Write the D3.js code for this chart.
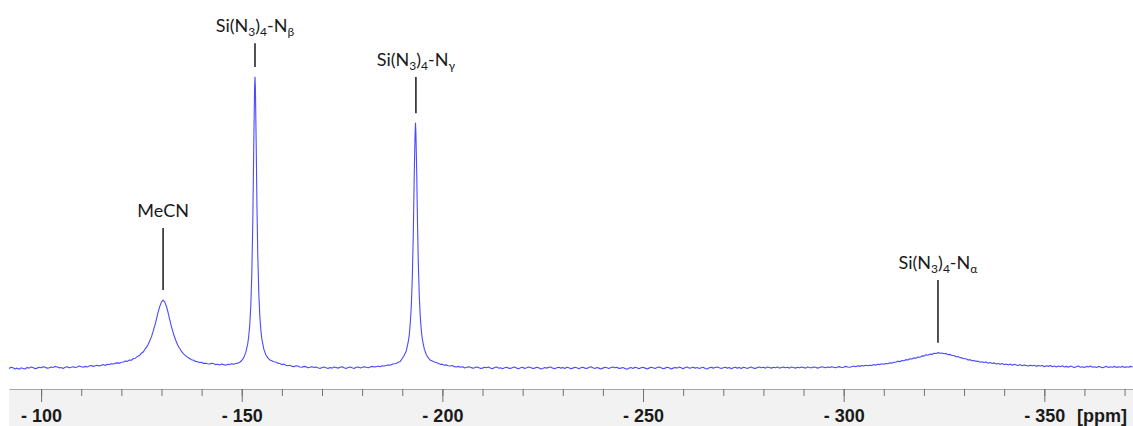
<!DOCTYPE html>
<meta charset="utf-8">

<!-- Load d3.js -->
<script src="https://d3js.org/d3.v7.min.js"></script>

<style>
  body { margin: 0; background: #fff; }
</style>

<body>
<div>
  <svg id="mysvg" width="1133" height="426"></svg>
</div>

<script>
  // spectrum as [ppm, intensity] (Nbeta top = 100)
  var baseLeft = [[-92,0.2],[-92.5,0.6],[-93,0.4],[-93.5,0.0],[-94,0.3],[-94.5,-0.1],[-95,0.4],[-95.5,0.2],[-96,0.0],
    [-96.5,0.5],[-97,0.3],[-97.5,0.7],[-98,0.5],[-98.5,0.1],[-99,0.3],[-99.5,0.6],[-100,0.4],[-100.5,0.8],[-101,0.6],
    [-101.5,0.3],[-102,0.4],[-102.5,0.7],[-103,0.5],[-103.5,0.9],[-104,0.7],[-104.5,0.4],[-105,0.5],[-105.5,0.2],
    [-106,0.6],[-106.5,0.8],[-107,0.4],[-107.5,0.6],[-108,0.8],[-108.5,0.5],[-109,0.7],[-109.5,1.0],[-110,0.8],
    [-110.5,0.6],[-111,0.9],[-111.5,0.7],[-112,1.0],[-112.5,1.2],[-113,0.9],[-113.5,1.1],[-114,1.3],[-114.5,1.0],
    [-115,1.3],[-115.5,1.5],[-116,1.2],[-116.5,1.6],[-117,1.5],[-117.5,1.8],[-118,1.7],[-118.5,2.0],[-119,2.1],
    [-119.5,2.0],[-120,2.3]]

  var peakMeCN = [[-120.5,2.4],[-121,2.7],[-121.5,2.6],[-122,3.1],[-122.5,3.0],[-123,3.6],[-123.5,3.7],[-124,4.3],
    [-124.5,4.6],[-125,5.4],[-125.5,5.9],[-126,7.0],[-126.5,7.9],[-127,9.4],[-127.5,11.0],[-128,13.3],[-128.5,15.6],
    [-129,18.6],[-129.5,21.1],[-130,23.0],[-130.4,23.6],[-130.8,23.0],[-131.2,21.6],[-131.6,19.6],[-132,17.2],
    [-132.5,14.4],[-133,12.0],[-133.5,10.0],[-134,8.3],[-134.5,7.1],[-135,6.0],[-135.5,5.2],[-136,4.6],[-136.5,4.0],
    [-137,3.6],[-137.5,3.2],[-138,3.0],[-138.5,2.6],[-139,2.5],[-139.5,2.2],[-140,2.3],[-140.5,1.9],[-141,2.0]]

  var gapBeta = [[-141.5,1.8],[-142,1.7],[-142.5,2.0],[-143,1.8],[-143.5,1.5],[-144,1.6],[-144.5,1.4],[-145,1.7],
    [-145.5,1.5],[-146,1.3],[-146.5,1.6],[-147,1.5],[-147.5,1.8],[-148,1.6],[-148.5,1.9],[-149,2.0],[-149.5,2.3]]

  var peakBeta = [[-150,2.9],[-150.5,3.9],[-151,5.6],[-151.5,8.7],[-151.75,11.4],[-152,15.2],[-152.25,21.6],[-152.5,32.0],
    [-152.75,50.0],[-153,77.0],[-153.2,96.5],[-153.3,100],[-153.4,96.5],[-153.6,77.0],[-153.8,55.0],[-154,38.8],
    [-154.25,25.9],[-154.5,18.2],[-154.75,13.5],[-155,10.4],[-155.5,6.8],[-156,4.9],[-156.5,3.8],[-157,3.1]]

  var midBase = [[-157.5,2.8],[-158,2.5],[-158.5,2.4],[-159,2.0],[-159.5,1.9],[-160,1.5],[-160.5,1.7],[-161,1.3],
    [-161.5,1.1],[-162,1.3],[-162.5,0.9],[-163,0.8],[-163.5,1.1],[-164,1.0],[-164.5,0.7],[-165,0.6],[-165.5,0.9],
    [-166,0.8],[-166.5,0.4],[-167,0.6],[-167.5,0.8],[-168,0.5],[-168.5,0.7],[-169,0.4],[-169.5,0.2],[-170,0.5],
    [-170.5,0.7],[-171,0.4],[-171.5,0.2],[-172,0.5],[-172.5,0.3],[-173,0.7],[-173.5,0.5],[-174,0.3],[-174.5,0.6],
    [-175,0.8],[-175.5,0.4],[-176,0.2],[-176.5,0.5],[-177,0.7],[-177.5,0.4],[-178,0.2],[-178.5,0.6],[-179,0.7],
    [-179.5,0.4],[-180,0.5],[-180.5,0.8],[-181,0.6],[-181.5,0.4],[-182,0.7],[-182.5,0.9],[-183,0.7],[-183.5,0.8],
    [-184,1.0],[-184.5,0.8],[-185,1.1],[-185.5,1.0],[-186,1.2],[-186.5,1.4],[-187,1.3],[-187.5,1.6],[-188,1.8],
    [-188.5,1.9],[-189,2.3]]

  var peakGamma = [[-189.5,2.6],[-190,3.6],[-190.5,4.7],[-191,6.2],[-191.5,9.4],[-191.75,11.7],[-192,15.7],[-192.25,21.4],
    [-192.5,31.0],[-192.75,46.0],[-193,67.6],[-193.2,81.0],[-193.3,84.2],[-193.4,81.0],[-193.6,67.6],[-193.8,50.0],
    [-194,36.2],[-194.25,24.7],[-194.5,17.6],[-194.75,13.2],[-195,10.2],[-195.5,6.8],[-196,4.9],[-196.5,3.8],[-197,3.0]]

  var baseRight = [[-197.5,2.7],[-198,2.4],[-198.5,2.2],[-199,1.9],[-199.5,1.6],[-200,1.6],[-200.5,1.3],[-201,1.4],
    [-201.5,1.1],[-202,1.0],[-202.5,1.2],[-203,0.8],[-203.5,0.7],[-204,0.9],[-204.5,0.6],[-205,0.8],[-205.5,0.4],
    [-206,0.5],[-206.5,0.8],[-207,0.6],[-207.5,0.3],[-208,0.4],[-208.5,0.7],[-209,0.5],[-209.5,0.2],[-210,0.3],
    [-210.5,0.6],[-211,0.4],[-211.5,0.7],[-212,0.3],[-212.5,0.1],[-213,0.5],[-213.5,0.7],[-214,0.3],[-214.5,0.4],
    [-215,0.1],[-215.5,0.4],[-216,0.6],[-216.5,0.3],[-217,0.2],[-217.5,0.5],[-218,0.7],[-218.5,0.3],[-219,0.1],
    [-219.5,0.4],[-220,0.6],[-220.5,0.2],[-221,0.4],[-221.5,0.7],[-222,0.5],[-222.5,0.2],[-223,0.3],[-223.5,0.6],
    [-224,0.4],[-224.5,0.0],[-225,0.2],[-225.5,0.5],[-226,0.3],[-226.5,0.6],[-227,0.7],[-227.5,0.3],[-228,0.1],
    [-228.5,0.4],[-229,0.6],[-229.5,0.3],[-230,0.5],[-230.5,0.2],[-231,0.6],[-231.5,0.4],[-232,0.1],[-232.5,0.3],
    [-233,0.6],[-233.5,0.4],[-234,0.1],[-234.5,0.4],[-235,0.6],[-235.5,0.3],[-236,0.2],[-236.5,0.5],[-237,0.8],
    [-237.5,0.4],[-238,0.2],[-238.5,0.5],[-239,0.3],[-239.5,0.0],[-240,0.3],[-240.5,0.6],[-241,0.4],[-241.5,0.2],
    [-242,0.5],[-242.5,0.7],[-243,0.4],[-243.5,0.6],[-244,0.2],[-244.5,0.3],[-245,0.5],[-245.5,0.2],[-246,-0.1],
    [-246.5,0.3],[-247,0.5],[-247.5,0.2],[-248,0.6],[-248.5,0.4],[-249,0.1],[-249.5,0.4],[-250,0.6],[-250.5,0.3],
    [-251,0.0],[-251.5,0.3],[-252,0.6],[-252.5,0.4],[-253,0.2],[-253.5,0.5],[-254,0.7],[-254.5,0.4],[-255,0.1],
    [-255.5,0.3],[-256,0.6],[-256.5,0.4],[-257,0.0],[-257.5,0.3],[-258,0.5],[-258.5,0.3],[-259,0.7],[-259.5,0.4],
    [-260,0.1],[-260.5,0.5],[-261,0.7],[-261.5,0.3],[-262,0.4],[-262.5,0.6],[-263,0.3],[-263.5,0.5],[-264,0.2],
    [-264.5,0.4],[-265,0.6],[-265.5,0.2],[-266,0.0],[-266.5,0.4],[-267,0.6],[-267.5,0.3],[-268,0.5],[-268.5,0.7],
    [-269,0.4],[-269.5,0.2],[-270,0.4],[-270.5,0.6],[-271,0.3],[-271.5,0.5],[-272,0.1],[-272.5,0.4],[-273,0.6],
    [-273.5,0.3],[-274,0.5],[-274.5,0.2],[-275,0.6],[-275.5,0.4],[-276,0.2],[-276.5,0.5],[-277,0.7],[-277.5,0.3],
    [-278,0.2],[-278.5,0.5],[-279,0.7],[-279.5,0.4],[-280,0.6],[-280.5,0.3],[-281,0.7],[-281.5,0.5],[-282,0.3],
    [-282.5,0.6],[-283,0.4],[-283.5,0.7],[-284,0.3],[-284.5,0.5],[-285,0.7],[-285.5,0.4],[-286,0.6],[-286.5,0.3],
    [-287,0.7],[-287.5,0.5],[-288,0.3],[-288.5,0.6],[-289,0.4],[-289.5,0.7],[-290,0.5],[-290.5,0.3],[-291,0.7],
    [-291.5,0.5],[-292,0.4],[-292.5,0.7],[-293,0.6],[-293.5,0.3],[-294,0.5],[-294.5,0.8],[-295,0.6],[-295.5,0.4],
    [-296,0.7],[-296.5,0.5],[-297,0.8],[-297.5,0.6],[-298,0.4],[-298.5,0.7],[-299,0.8],[-299.5,0.5],[-300,0.6],
    [-300.5,0.9],[-301,0.7],[-301.5,0.6],[-302,0.8],[-302.5,1.0],[-303,0.8],[-303.5,1.1],[-304,0.9],[-304.5,1.2],
    [-305,1.0],[-305.5,1.3]]

  var peakAlpha = [[-306,1.1],[-306.5,1.3],[-307,1.2],[-307.5,1.5],[-308,1.3],[-308.5,1.6],[-309,1.5],[-309.5,1.8],
    [-310,1.6],[-310.5,1.9],[-311,1.8],[-311.5,2.1],[-312,2.0],[-312.5,2.3],[-313,2.3],[-313.5,2.7],[-314,2.5],
    [-314.5,2.9],[-315,2.8],[-315.5,3.2],[-316,3.1],[-316.5,3.5],[-317,3.4],[-317.5,3.8],[-318,3.7],[-318.5,4.1],
    [-319,4.0],[-319.5,4.5],[-320,4.4],[-320.5,4.9],[-321,4.7],[-321.5,5.1],[-322,5.0],[-322.5,5.4],[-323,5.3],
    [-323.5,5.6],[-324,5.4],[-324.5,5.5],[-325,5.2],[-325.5,5.3],[-326,4.9],[-326.5,5.0],[-327,4.6],[-327.5,4.6],
    [-328,4.2],[-328.5,4.3],[-329,3.9],[-329.5,3.8],[-330,3.5],[-330.5,3.5],[-331,3.1],[-331.5,3.2],[-332,2.8],
    [-332.5,2.9],[-333,2.6],[-333.5,2.7],[-334,2.3],[-334.5,2.5],[-335,2.2],[-335.5,2.4],[-336,2.0],[-336.5,2.2],
    [-337,1.9],[-337.5,2.1],[-338,1.7],[-338.5,1.9],[-339,1.6],[-339.5,1.9],[-340,1.5],[-340.5,1.7],[-341,1.4],
    [-341.5,1.7],[-342,1.3],[-342.5,1.6],[-343,1.4],[-343.5,1.2],[-344,1.5],[-344.5,1.1],[-345,1.4],[-345.5,1.2],
    [-346,1.0],[-346.5,1.3],[-347,1.1],[-347.5,1.3],[-348,0.9],[-348.5,1.2],[-349,1.0],[-349.5,1.2],[-350,0.8],
    [-350.5,1.1],[-351,0.9],[-351.5,1.2],[-352,0.8],[-352.5,1.0],[-353,0.7],[-353.5,1.0],[-354,0.8],[-354.5,1.1],
    [-355,0.7],[-355.5,0.9],[-356,0.6],[-356.5,1.0],[-357,0.8],[-357.5,0.5],[-358,0.8],[-358.5,1.0],[-359,0.6],
    [-359.5,0.8],[-360,0.5],[-360.5,0.9],[-361,0.7],[-361.5,1.0],[-362,0.6],[-362.5,0.8],[-363,0.5],[-363.5,0.9],
    [-364,0.7],[-364.5,0.4],[-365,0.7],[-365.5,0.9],[-366,0.5],[-366.5,0.8],[-367,0.6],[-367.5,0.9],[-368,0.5],
    [-368.5,0.8],[-369,0.6],[-369.5,0.9],[-370,0.5],[-370.5,0.8],[-371,0.6],[-371.5,0.9],[-372,0.7]]

  // peak labels ("_" marks a subscript character)
  var labelNames = ["MeCN", "Si(N_3)_4-N_β", "Si(N_3)_4-N_γ", "Si(N_3)_4-N_α"]
  var labelShift = [-130.4, -153.3, -193.4, -323.5]
  var labelTop = [48.3, 111.6, 100, 30.5]   // intensity where the marker line starts

  // axis ticks
  var majorTicks = [-100, -150, -200, -250, -300, -350]
  var minorTicks = [-100, -110, -120, -130, -140, -150, -160, -170, -180, -190, -200, -210, -220, -230,
    -240, -250, -260, -270, -280, -290, -300, -310, -320, -330, -340, -350, -360, -370]

  var spectrum = [].concat(baseLeft, peakMeCN, gapBeta, peakBeta, midBase, peakGamma, baseRight, peakAlpha)

  var svg = d3.select("svg"),
      width = +svg.attr("width"),
      height = +svg.attr("height");

  var axisY = 389

  var x = d3.scaleLinear()
      .domain([-92, -372.1])
      .range([9, width])

  var y = d3.scaleLinear()
      .domain([0, 100])
      .range([369, 77])

  // grey axis band
  svg.append("rect")
      .attr("x", 9)
      .attr("y", axisY)
      .attr("width", width - 9)
      .attr("height", height - axisY)
      .attr("fill", "#f2f2f2")

  var minorAxis = svg.append("g")
      .attr("transform", "translate(0," + axisY + ")")
      .call(d3.axisBottom(x).tickValues(minorTicks).tickSize(7).tickSizeOuter(0).tickFormat(""))
  minorAxis.select(".domain").attr("stroke", "#a8a8a8")
  minorAxis.selectAll(".tick line").attr("stroke", "#707070")

  var majorAxis = svg.append("g")
      .attr("transform", "translate(0," + axisY + ")")
      .call(d3.axisBottom(x).tickValues(majorTicks).tickSize(13).tickSizeOuter(0).tickPadding(7)
        .tickFormat(function(d){ return "- " + Math.abs(d) }))
  majorAxis.select(".domain").remove()
  majorAxis.selectAll(".tick line").attr("stroke", "#707070")
  majorAxis.selectAll(".tick text")
      .attr("fill", "#1a1a1a")
      .style("font-family", "'Liberation Sans', Arial, sans-serif")
      .style("font-weight", "bold")
      .style("font-size", "18px")

  svg.append("text")
      .attr("x", 1127)
      .attr("y", 422)
      .attr("text-anchor", "end")
      .attr("fill", "#1a1a1a")
      .style("font-family", "'Liberation Sans', Arial, sans-serif")
      .style("font-weight", "bold")
      .style("font-size", "18px")
      .text("[ppm]")

  // the spectrum
  svg.append("path")
      .datum(spectrum)
      .attr("fill", "none")
      .attr("stroke", "#4a4aff")
      .attr("stroke-width", 1.1)
      .attr("stroke-linejoin", "round")
      .attr("d", d3.line()
        .x(function(d){ return x(d[0]) })
        .y(function(d){ return y(d[1]) }))

  // peak labels with marker lines
  labelNames.forEach(function(name, i) {
    var near = spectrum.filter(function(d){ return Math.abs(d[0] - labelShift[i]) < 1.5 })
    var top = d3.max(near, function(d){ return d[1] })
    var lx = x(labelShift[i])
    var y0 = y(labelTop[i])

    svg.append("line")
        .attr("x1", lx).attr("x2", lx)
        .attr("y1", y0)
        .attr("y2", y(top) - 10)
        .attr("stroke", "#262626")
        .attr("stroke-width", 1.6)

    var t = svg.append("text")
        .attr("x", lx)
        .attr("y", y0 - 11)
        .attr("text-anchor", "middle")
        .attr("fill", "#1a1a1a")
        .style("font-family", "Lato, 'Open Sans', sans-serif")
        .style("font-size", "18px")

    // first char after "_" is a subscript
    name.split("_").forEach(function(p, j) {
      if (j == 0) { t.append("tspan").text(p); return }
      t.append("tspan").attr("dy", 4).style("font-size", "12px").text(p[0])
      if (p.length > 1) t.append("tspan").attr("dy", -4).text(p.slice(1))
    })
  })
</script>
</body>
